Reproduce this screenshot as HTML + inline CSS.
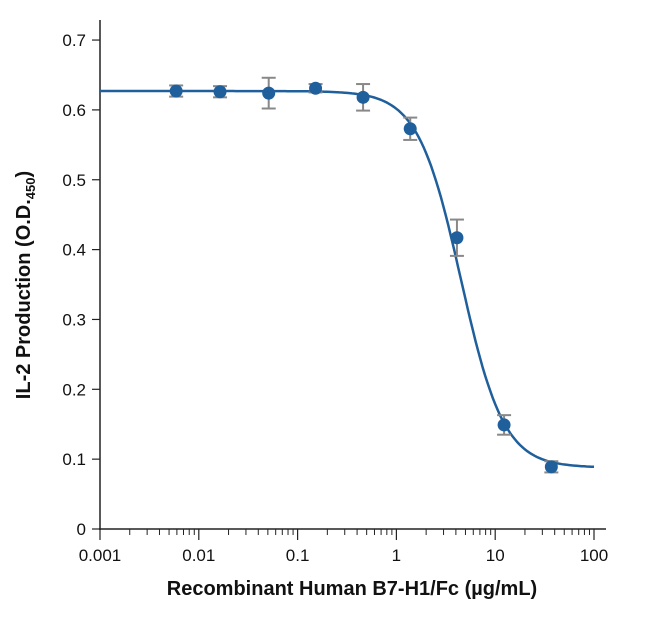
<!DOCTYPE html>
<html><head><meta charset="utf-8"><style>
body{margin:0;background:#fff;}
svg text{font-family:"Liberation Sans",sans-serif;fill:#111;}
</style></head><body>
<svg id="chart" width="650" height="616" xmlns="http://www.w3.org/2000/svg">
<g id="axes"></g><g id="plot"></g>
<text x="352" y="595" text-anchor="middle" font-size="20" font-weight="bold">Recombinant Human B7-H1/Fc (µg/mL)</text>
<text transform="translate(30,285) rotate(-90)" text-anchor="middle" font-size="20" font-weight="bold">IL-2 Production (O.D.<tspan font-size="13" dy="5">450</tspan><tspan dy="-5">)</tspan></text>
</svg>
<script>
const doses=[0.0059,0.0164,0.051,0.152,0.46,1.38,4.1,12.3,37];
const means=[0.627,0.626,0.624,0.631,0.618,0.573,0.417,0.149,0.089];
const errs=[0.008,0.008,0.022,0.006,0.019,0.016,0.026,0.014,0.008];
const yTicks=[0,0.1,0.2,0.3,0.4,0.5,0.6,0.7];
const xTicks=[0.001,0.01,0.1,1,10,100];
const xTickLabels=["0.001","0.01","0.1","1","10","100"];
const fitTop=0.627,fitBottom=0.088,fitEC50=4.5,fitHill=2;
const NS="http://www.w3.org/2000/svg";
const X=v=>100+(Math.log10(v)+3)*98.8;
const Y=v=>529-v*698.5;
function mk(p,t,a){const e=document.createElementNS(NS,t);for(const k in a)e.setAttribute(k,a[k]);p.appendChild(e);return e;}
const ax=document.getElementById('axes'),pl=document.getElementById('plot');
let e=mk(ax,'line',{x1:100,y1:20,x2:100,y2:530,stroke:'#222','stroke-width':1.5});


e=mk(ax,'line',{x1:99,y1:529,x2:606,y2:529,stroke:'#222','stroke-width':1.5});


yTicks.forEach(v=>{
 mk(ax,'line',{x1:92,x2:100,y1:Y(v),y2:Y(v),stroke:'#222','stroke-width':1.2});
 const t=mk(ax,'text',{x:86,y:Y(v)+6,'text-anchor':'end','font-size':17});
 t.textContent=String(v);
 
 
});
xTicks.forEach((v,i)=>{
 mk(ax,'line',{x1:X(v),x2:X(v),y1:529,y2:540,stroke:'#222','stroke-width':1.2});
 if(i<xTicks.length-1)for(let m=2;m<10;m++)mk(ax,'line',{x1:X(v*m),x2:X(v*m),y1:529,y2:535,stroke:'#222','stroke-width':1});
 const t=mk(ax,'text',{x:X(v),y:561,'text-anchor':'middle','font-size':17});
 t.textContent=xTickLabels[i];
 
 
});
let d='';
for(let i=0;i<=200;i++){const lx=-3+5*i/200,x=Math.pow(10,lx);
 const y=fitBottom+(fitTop-fitBottom)/(1+Math.pow(x/fitEC50,fitHill));
 d+=(i?'L':'M')+X(x).toFixed(1)+','+Y(y).toFixed(1);}
e=mk(pl,'path',{d:d,fill:'none',stroke:'#1f5f9c','stroke-width':2.5});


doses.forEach((v,i)=>{
 const x=X(v),y1=Y(means[i]+errs[i]),y2=Y(means[i]-errs[i]);
 const g=mk(pl,'g',{});
 
 
 mk(g,'line',{x1:x,x2:x,y1:y1,y2:y2,stroke:'#888','stroke-width':2});
 mk(g,'line',{x1:x-7,x2:x+7,y1:y1,y2:y1,stroke:'#888','stroke-width':2});
 mk(g,'line',{x1:x-7,x2:x+7,y1:y2,y2:y2,stroke:'#888','stroke-width':2});
 const c=mk(pl,'circle',{cx:x,cy:Y(means[i]),r:6.5,fill:'#1f5f9c'});
 
 
});
</script>
</body></html>
